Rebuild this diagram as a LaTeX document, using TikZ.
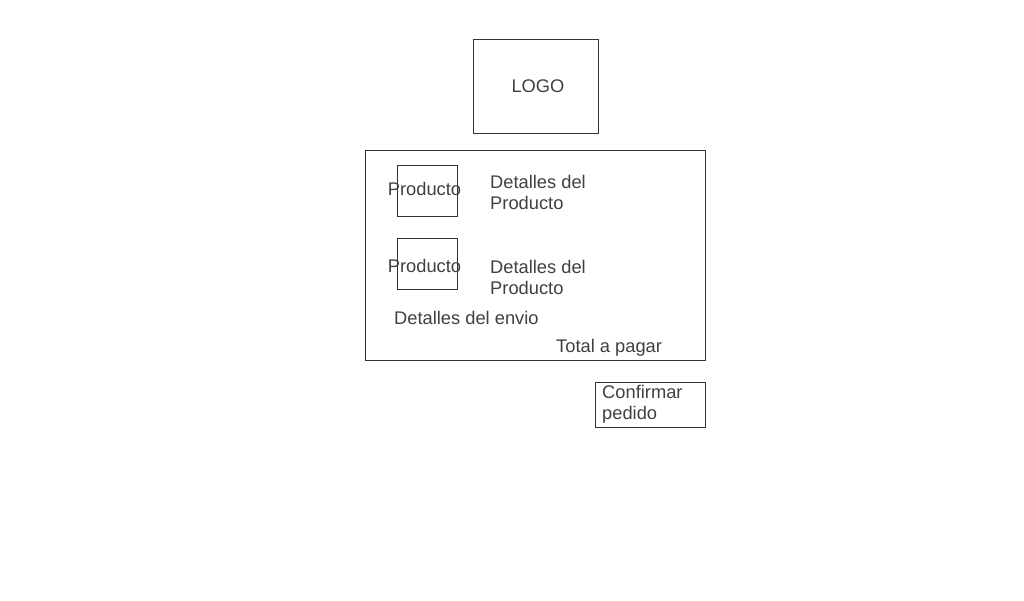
\documentclass[tikz,border=0pt]{standalone}
\usepackage{fontspec}
\setmainfont{Liberation Sans}
\usepackage{tikz}
\definecolor{ink}{HTML}{404040}
\definecolor{edge}{HTML}{333333}

\begin{document}
\begin{tikzpicture}[x=1pt, y=-1pt,
  box/.style={draw=edge, line width=0.8pt, inner sep=0pt},
  txt/.style={text=ink, inner sep=0pt, align=left, anchor=west, font=\fontsize{18.3}{21}\selectfont}]
  \useasboundingbox (0,0) rectangle (1024,600);
  % header
  \node[box, minimum width=125pt, minimum height=94pt] (logo) at (536,86) {};
  \node[txt, anchor=center] (logotxt) at (538,86) {LOGO};
  % order summary
  \node[box, minimum width=340pt, minimum height=210pt] (pedido) at (535,255) {};
  \node[box, minimum width=60pt, minimum height=51pt] (prod1) at (427.5,190.5) {};
  \node[box, minimum width=60pt, minimum height=51pt] (prod2) at (427.5,263.5) {};
  \node[txt, anchor=center] (prod1txt) at (424.5,189) {Producto};
  \node[txt, anchor=center] (prod2txt) at (424.5,266) {Producto};
  \node[txt] (det1) at (490,192) {Detalles del\\Producto};
  \node[txt] (det2) at (490,277) {Detalles del\\Producto};
  \node[txt] (envio) at (394,317.5) {Detalles del envio};
  \node[txt] (total) at (556,348) {Total a pagar};
  % button
  \node[box, minimum width=110pt, minimum height=45pt] (confirmar) at (650,404.5) {};
  \node[txt] (conftxt) at (602,404.5) {Confirmar\\pedido};
\end{tikzpicture}
\end{document}
